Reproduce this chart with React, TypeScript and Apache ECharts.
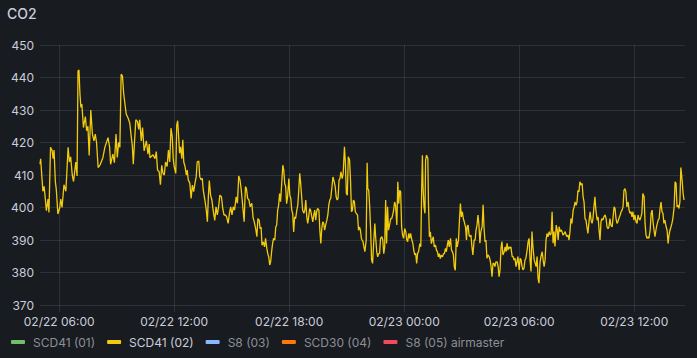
import React, { useEffect, useRef } from "react";
import * as echarts from "echarts";

// Time is expressed in minutes since 02/22 00:00.
const START_MINUTE = 300; // 02/22 05:00
const END_MINUTE = 2319; // 02/23 14:39

const xTickMinutes = [360, 720, 1080, 1440, 1800, 2160];
const xTickLabels = ["02/22 06:00", "02/22 12:00", "02/22 18:00", "02/23 00:00", "02/23 06:00", "02/23 12:00"];
const yMin = 370;
const yMax = 450;
const yStep = 10;

const seriesNames = ["SCD41 (01)", "SCD41 (02)", "S8 (03)", "SCD30 (04)", "S8 (05) airmaster"];
const seriesColors = ["#73BF69", "#F2CC0C", "#8AB8FF", "#FF780A", "#F2495C"];

// SCD41 (02) readings: [minutes after 02/22 05:00, CO2 ppm]
const morning22: [number, number][] = [
  [0, 413.3], [2, 415], [9, 405], [13, 406.5], [20, 399], [25, 402.6], [28, 398.5], [33, 418.5], [38, 417.5], [41, 415],
  [44, 417.7], [48, 408], [51, 405.6], [56, 398], [62, 400], [65, 402.6], [69, 400], [75, 407], [81, 405], [88, 418.5],
  [92, 414], [96, 415.6], [101, 410], [105, 408], [112, 414], [116, 409.7], [119, 442], [122, 442.3], [125, 435], [128, 430.8],
  [131, 431.8], [136, 424.6], [142, 428], [146, 423.6], [150, 425], [154, 416], [159, 430], [164, 422.6], [169, 420.5], [173, 422.6],
  [177, 420], [182, 412.3], [189, 413.3], [197, 415.4], [203, 418.5], [213, 421.5], [218, 418.5], [221, 413.3], [228, 416.4], [233, 413.8],
  [238, 422.6], [242, 415.4], [246, 420], [250, 418.5], [254, 441], [258, 440.5], [262, 435], [267, 431], [270, 428.7], [275, 427.7],
  [281, 426], [286, 421.5], [289, 419], [292, 413.3], [296, 420.5], [300, 427], [305, 426.5], [309, 424], [312, 427], [317, 420.5],
  [321, 424.6], [326, 417.4], [333, 420.5], [338, 416.4], [342, 419.5],
];

const afternoon22: [number, number][] = [
  [344, 415.3], [354, 416.2], [360, 415], [364, 417.2], [368, 411.5], [373, 411], [377, 407], [381, 413], [385, 410.5], [389, 410],
  [393, 414], [398, 412.6], [402, 417.7], [406, 414], [410, 424.4], [414, 421.8], [417, 415], [420, 412.6], [425, 410.5], [428, 425.4],
  [431, 426.7], [434, 421.8], [437, 416.7], [440, 418.7], [444, 415], [447, 420.8], [450, 414], [454, 412.6], [458, 410], [461, 411.5],
  [464, 408.5], [469, 407.5], [473, 402.8], [477, 406.9], [481, 404.9], [485, 407.4], [489, 409.5], [492, 414], [497, 414.3], [500, 409.5],
  [504, 408.5], [508, 409], [511, 405.4], [516, 402.3], [520, 399.7], [524, 395.6], [527, 403.3], [530, 408.3], [534, 403.8], [538, 402.3],
  [542, 399.2], [547, 396], [551, 400.2], [555, 397.7], [559, 400.2], [563, 403.8], [568, 403.3], [572, 399.7], [576, 397.7], [580, 397.7],
  [584, 397.2], [589, 395.1], [593, 398.2], [597, 400.2], [601, 397.7], [605, 400.2], [609, 399.2], [614, 403.3], [618, 401.3], [622, 409.7],
  [626, 408.5], [630, 405.4], [635, 400], [639, 395.6], [643, 406.4], [646, 405.9], [650, 402.8], [654, 402.3], [658, 400.2], [663, 401.3],
  [667, 396.9], [671, 395.4], [675, 393.6], [679, 391],
];

const evening22: [number, number][] = [
  [682, 396.6], [686, 396.1], [689, 393.5], [692, 394], [695, 388.4], [699, 389.4], [703, 387.9], [706, 390.5], [710, 387.4], [713, 385.8],
  [716, 384.8], [719, 382.3], [722, 383.3], [725, 386.4], [728, 388.9], [731, 390.5], [735, 390], [738, 394], [741, 394.6], [744, 399.2],
  [747, 400.7], [750, 404.3], [753, 401.8], [757, 407.9], [760, 413], [763, 411.5], [766, 407.4], [769, 406.4], [772, 401.2], [775, 403.3],
  [779, 408.9], [782, 403.8], [785, 402.8], [788, 399.2], [791, 398.2], [794, 392.5], [797, 397.1], [800, 396.6], [804, 399.2], [807, 400.7],
  [810, 405.3], [813, 410.5], [816, 407.4], [819, 403.3], [822, 399.2], [826, 398.2], [829, 399.2], [832, 402.3], [835, 397.1], [838, 395.1],
  [841, 397.1], [844, 399.7], [847, 399.2], [851, 397.1], [854, 395.6], [857, 397.7], [860, 399.2], [863, 396.1], [866, 398.7], [869, 399.7],
  [873, 399.2], [876, 393], [879, 388.9], [882, 393.5], [885, 395.6], [888, 395.1], [891, 393], [894, 394.6], [898, 396.1], [901, 397.7],
  [904, 400.7], [907, 402.3], [910, 402.8], [914, 406.4], [917, 409.4], [921, 407.9], [924, 406.4], [927, 403.3], [930, 402.3], [933, 402.8],
  [936, 408.4], [939, 408.9], [942, 411], [946, 408.9], [949, 410.5], [953, 418.7], [956, 413.5], [959, 404.3], [962, 403.8], [965, 415.6],
  [969, 414.6], [972, 408.4], [975, 398.7], [978, 399.2], [981, 402.3], [984, 401.8], [987, 398.7], [990, 398.2], [994, 397.7], [997, 393],
  [1000, 394], [1003, 393], [1006, 390.5],
];

const night23: [number, number][] = [
  [1008, 390], [1011, 389.5], [1014, 387.9], [1017, 386.4], [1021, 390], [1024, 413.8], [1026, 405.8], [1029, 405.3], [1032, 400.2], [1035, 393],
  [1038, 383.8], [1041, 382.8], [1045, 390], [1048, 395.1], [1051, 390.5], [1054, 386.4], [1057, 384.8], [1060, 385.8], [1063, 385.8], [1066, 390.5],
  [1070, 391], [1073, 390], [1076, 385.8], [1079, 387.9], [1082, 402.3], [1085, 388.9], [1088, 400.2], [1091, 393], [1095, 395.1], [1098, 396.6],
  [1101, 396.6], [1104, 397.7], [1107, 399.2], [1110, 401.7], [1113, 400.7], [1117, 394.6], [1120, 407.9], [1123, 401.2], [1126, 405.3], [1129, 404.8],
  [1132, 394], [1135, 391.5], [1138, 390.5], [1142, 393.5], [1145, 392.5], [1148, 390], [1151, 389.5], [1154, 392], [1157, 390.5], [1160, 392],
  [1164, 390], [1167, 389], [1170, 386.9], [1173, 385.4], [1176, 385.9], [1179, 382.8], [1182, 385.9], [1185, 386.4], [1189, 388.9], [1192, 387.9],
  [1195, 406.9], [1197, 416.1], [1199, 406.4], [1202, 400.2], [1205, 398.2], [1207, 414.6], [1210, 416.1], [1214, 415.1], [1216, 401.2], [1219, 391],
  [1222, 392.5], [1225, 388.9], [1228, 390], [1231, 391], [1234, 387.9], [1238, 388.4], [1241, 386.9], [1244, 386.4], [1247, 384.8], [1250, 385.8],
  [1253, 384.3], [1256, 385.3], [1260, 384.8], [1263, 385.8], [1266, 385.8], [1269, 387.4], [1272, 386.4], [1275, 388.4], [1278, 390], [1281, 387.9],
  [1285, 390.5], [1288, 386.9], [1291, 386.4], [1294, 385.4], [1297, 381.7], [1300, 380.7], [1303, 390.5], [1306, 387.9], [1310, 390], [1313, 396.1],
  [1316, 401.2], [1319, 397.1], [1322, 398.7], [1325, 396.6], [1328, 395.6], [1332, 394], [1335, 390],
];

const earlyMorning23: [number, number][] = [
  [1337, 394.1], [1340, 394.6], [1343, 391.5], [1346, 391], [1349, 391.5], [1352, 388], [1355, 385.4], [1359, 390], [1362, 390], [1365, 393.1],
  [1368, 394.6], [1371, 397.7], [1374, 394.6], [1377, 389], [1380, 392.6], [1384, 394.1], [1387, 400.8], [1390, 393.6], [1393, 389.5], [1396, 390],
  [1399, 384.4], [1402, 385.4], [1406, 384.9], [1409, 383.8], [1412, 381.8], [1415, 378.7], [1418, 382.8], [1421, 382.8], [1424, 381.8], [1427, 383.3],
  [1431, 383.3], [1434, 381.8], [1437, 378.7], [1440, 380.8], [1443, 387.4], [1446, 389.5], [1449, 385.4], [1453, 386.4], [1456, 387.9], [1459, 386.4],
  [1462, 389], [1465, 386.9], [1468, 387.9], [1471, 387.4], [1474, 387.9], [1478, 384.9], [1481, 384.9], [1484, 383.8], [1487, 384.4], [1490, 381.8],
  [1493, 383.3], [1496, 384.9], [1500, 380.8], [1503, 384.4], [1506, 383.8], [1509, 381.8], [1512, 380.8], [1515, 381.3], [1518, 383.8], [1521, 384.4],
  [1525, 387], [1528, 389.5], [1531, 390.5], [1534, 383.8], [1537, 380.3], [1540, 392.6], [1543, 388], [1547, 383.8], [1550, 382.8], [1553, 381.8],
  [1556, 384.9], [1559, 378.2], [1562, 376.7], [1565, 382.8], [1568, 384.9], [1572, 386.4], [1575, 383.8], [1578, 381.8], [1581, 383.8], [1584, 390],
  [1587, 392], [1590, 391], [1594, 392.6], [1597, 391.5], [1600, 392], [1603, 398.7], [1606, 389], [1609, 392.6], [1612, 388], [1616, 394.6],
  [1619, 393.1], [1622, 390], [1625, 394.1], [1628, 392.6], [1631, 393.1], [1634, 392.6], [1637, 391.5], [1641, 392], [1644, 392.6], [1647, 391.5],
  [1650, 391], [1653, 391.5], [1656, 390], [1659, 392.6],
];

const midday23: [number, number][] = [
  [1662, 396.6], [1665, 395.1], [1669, 399.2], [1672, 400.2], [1675, 401.7], [1678, 400.7], [1681, 401.7], [1684, 405.3], [1687, 404.8], [1690, 407.9],
  [1694, 406.9], [1697, 407.4], [1700, 403.3], [1703, 401.7], [1706, 396.6], [1709, 396.1], [1712, 394], [1715, 392], [1719, 396.1], [1722, 398.7],
  [1725, 396.1], [1728, 395.1], [1731, 396.6], [1734, 400.2], [1737, 403.3], [1740, 399.2], [1744, 396.1], [1747, 397.1], [1750, 393], [1753, 390],
  [1756, 395.6], [1759, 396.6], [1762, 396.1], [1765, 397.1], [1769, 397.7], [1772, 396.6], [1775, 394], [1778, 393.5], [1781, 394], [1784, 396.6],
  [1787, 394.6], [1791, 394], [1794, 397.1], [1797, 400.2], [1800, 399.7], [1803, 396.6], [1806, 395.1], [1809, 395.6], [1812, 396.6], [1816, 397.7],
  [1819, 398.7], [1822, 399.2], [1825, 400.2], [1828, 405.3], [1831, 405.8], [1834, 404.8], [1837, 400.2], [1841, 401.7], [1844, 399.2], [1847, 398.2],
  [1850, 398.7], [1853, 397.1], [1856, 398.7], [1859, 396.1], [1862, 397.7], [1866, 395.6], [1869, 395.1], [1872, 397.7], [1875, 396.6], [1878, 396.1],
  [1881, 397.1], [1884, 398.2], [1887, 404.3], [1891, 403.3], [1894, 395.1], [1897, 391.5], [1900, 390.5], [1903, 391], [1906, 390.5], [1910, 393],
  [1913, 398.2], [1916, 399.2], [1919, 395.6], [1922, 393], [1925, 391], [1928, 393], [1931, 394.6], [1935, 396.1], [1938, 396.6], [1941, 399.7],
  [1944, 401.7], [1947, 398.7], [1950, 398.2], [1953, 395.1], [1956, 396.1], [1960, 394], [1963, 393], [1966, 388.9], [1969, 391.5], [1972, 393],
  [1975, 394], [1978, 395.1], [1981, 396.6], [1985, 400.2], [1988, 407.9], [1991, 407.4], [1994, 400.2], [1997, 400.7], [2000, 399.7], [2003, 401.7],
  [2006, 412.3], [2010, 408.4], [2013, 404.3], [2016, 402.3],
];

const TEXT = "#ccccdc";
const TEXT_DIM = "#8e8e99";
const GRID = "rgba(240,250,255,0.1)";
const FONT = "Inter, 'Noto Sans', sans-serif";

export default function App() {
  const ref = useRef<HTMLDivElement>(null);

  useEffect(() => {
    if (!ref.current) return;
    const chart = echarts.init(ref.current, undefined, { renderer: "svg" });
    const readings = [...morning22, ...afternoon22, ...evening22, ...night23, ...earlyMorning23, ...midday23];
    const scd41_02 = readings.map(([m, v]) => [START_MINUTE + m, v]);

    const series = seriesNames.map((name, i) => ({
      name,
      type: "line",
      data: i === 1 ? scd41_02 : [],
      showSymbol: false,
      symbol: "none",
      silent: true,
      lineStyle: { width: 1.3, color: seriesColors[i] },
      itemStyle: { color: seriesColors[i] },
      emphasis: { disabled: true },
    }));

    chart.setOption({
      animation: false,
      backgroundColor: "#181b1f",
      color: seriesColors,
      textStyle: { fontFamily: FONT },
      title: {
        text: "CO2",
        left: 7,
        top: 6,
        padding: 0,
        textStyle: { color: TEXT, fontSize: 14, fontWeight: 500, fontFamily: FONT },
      },
      grid: { left: 40, right: 12, top: 45, bottom: 53, containLabel: false },
      legend: {
        left: 11,
        top: 336,
        padding: 0,
        icon: "roundRect",
        itemWidth: 14,
        itemHeight: 4,
        itemGap: 12,
        selectedMode: false,
        data: seriesNames.map((name, i) => ({
          name,
          textStyle: { color: i === 1 ? TEXT : TEXT_DIM, fontSize: 12, fontFamily: FONT, padding: [0, 0, 0, 3] },
        })),
      },
      xAxis: {
        type: "value",
        min: START_MINUTE,
        max: END_MINUTE,
        axisLine: { show: false },
        axisTick: { show: true, customValues: xTickMinutes, length: 7, lineStyle: { color: GRID } },
        splitLine: { show: true, lineStyle: { color: GRID } },
        axisLabel: {
          customValues: xTickMinutes,
          color: TEXT,
          fontSize: 12,
          fontFamily: FONT,
          margin: 10,
          formatter: (v: number) => {
            const i = xTickMinutes.indexOf(v);
            return i >= 0 ? xTickLabels[i] : "";
          },
        },
      },
      yAxis: {
        type: "value",
        min: yMin,
        max: yMax,
        interval: yStep,
        axisLine: { show: false },
        axisTick: { show: false },
        splitLine: { show: true, lineStyle: { color: GRID } },
        axisLabel: { color: TEXT, fontSize: 12, fontFamily: FONT, margin: 6 },
      },
      series,
    });

    return () => chart.dispose();
  }, []);

  return (
    <div
      ref={ref}
      style={{ position: "fixed", left: 0, top: 0, width: 697, height: 358, background: "#181b1f" }}
    />
  );
}
